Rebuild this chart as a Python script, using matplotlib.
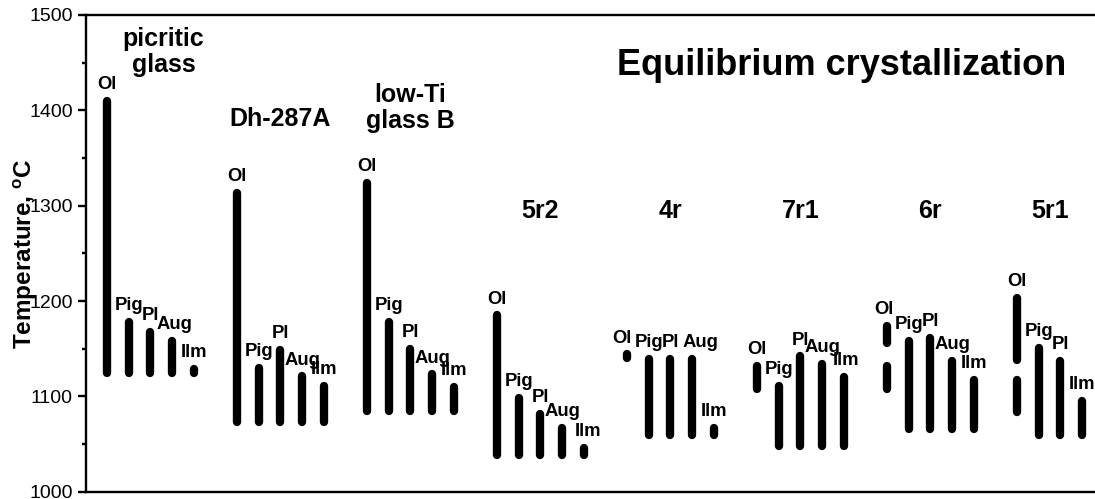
import numpy as np
import matplotlib
matplotlib.use('Agg')
from matplotlib import pyplot as plt

plt.rcParams['font.family'] = ['Liberation Sans', 'DejaVu Sans']
plt.rcParams['mathtext.fontset'] = 'custom'
plt.rcParams['mathtext.rm'] = 'Liberation Sans:bold'
plt.rcParams['mathtext.it'] = 'Liberation Sans:bold'
plt.rcParams['mathtext.bf'] = 'Liberation Sans:bold'

# samples and minerals
samples = ['picritic\nglass', 'Dh-287A', 'low-Ti\nglass B', '5r2', '4r', '7r1', '6r', '5r1']
minerals = ['Ol', 'Pig', 'Pl', 'Aug', 'Ilm']

# crystallization intervals (oC); None = mineral absent
ol_hi = [1410, 1313, 1324, 1185, 1144, 1132, 1174, 1203]
ol_lo = [1124, 1073, 1085, 1038, 1140, 1108, 1156, 1138]
ol2_hi = [None, None, None, None, None, None, 1132, 1117]
ol2_lo = [None, None, None, None, None, None, 1108, 1084]
pig_hi = [1178, 1130, 1178, 1098, 1139, 1111, 1158, 1151]
pl_hi = [1168, 1149, 1150, 1082, 1139, 1142, 1161, 1137]
aug_hi = [1158, 1121, 1123, 1067, 1139, 1134, 1137, None]
ilm_hi = [1129, 1111, 1110, 1046, 1067, 1120, 1117, 1095]
base = [1124, 1073, 1085, 1038, 1059, 1048, 1066, 1059]

# sample label placement
title_y = [1461, 1391, 1402, 1294, 1294, 1294, 1294, 1294]
title_dx = [0.1, 0, 0, 0, 0, 0, 0, -0.08]
# small nudges (points) for crowded mineral labels
label_dx = {(0, 'Aug'): 2, (3, 'Ilm'): 3, (4, 'Ol'): -4, (4, 'Aug'): 6,
            (6, 'Ol'): -2, (5, 'Ilm'): 2}

step = 1 / 6.
lw = 6
lab_kw = dict(textcoords='offset points', ha='center', va='baseline',
              fontsize=13.3, fontweight='bold')

fig = plt.figure(figsize=(10.95, 4.99), dpi=100)
ax = fig.add_axes([0.0783, 0.01463, 0.9217, 0.95534])

for i, name in enumerate(samples):
    # olivine (may be split into two intervals)
    x = i
    ax.plot([x, x], [ol_lo[i], ol_hi[i]], color='black', lw=lw, solid_capstyle='round')
    if ol2_hi[i] is not None:
        ax.plot([x, x], [ol2_lo[i], ol2_hi[i]], color='black', lw=lw, solid_capstyle='round')
    ax.annotate('Ol', (x, ol_hi[i]), xytext=(label_dx.get((i, 'Ol'), 0), 8.5), **lab_kw)
    slot = 1
    for m, tops in zip(minerals[1:], [pig_hi, pl_hi, aug_hi, ilm_hi]):
        if tops[i] is None:
            continue
        x = i + slot * step
        ax.plot([x, x], [base[i], tops[i]], color='black', lw=lw, solid_capstyle='round')
        ax.annotate(m, (x, tops[i]), xytext=(label_dx.get((i, m), 0), 8.5), **lab_kw)
        slot += 1
    ax.text(i + 2 * step + title_dx[i], title_y[i], name, ha='center', va='center',
            fontsize=18, fontweight='bold', multialignment='center', linespacing=1.1)

ax.text(0.749, 0.874, 'Equilibrium crystallization', transform=ax.transAxes,
        ha='center', va='baseline', fontsize=26, fontweight='bold')

ax.set_xlim(-0.164, 7.6)
ax.set_ylim(1000, 1500)
ax.set_yticks(np.arange(1000, 1501, 100))
ax.set_yticks(np.arange(1050, 1500, 100), minor=True)
ax.set_xticks([])

ax.spines['right'].set_visible(False)
for s in ['left', 'top', 'bottom']:
    ax.spines[s].set_linewidth(1.7)

ax.tick_params(axis='y', which='major', direction='out', length=5.8, width=1.7,
               labelsize=14, pad=3.6)
ax.tick_params(axis='y', which='minor', direction='out', length=3.2, width=1.7)

ax.set_ylabel('Temperature, $^{\\mathrm{o}}$C', fontsize=17.5, fontweight='bold')
ax.yaxis.set_label_coords(-0.0465, 0.5)

fig.savefig('out.png', dpi=100)
